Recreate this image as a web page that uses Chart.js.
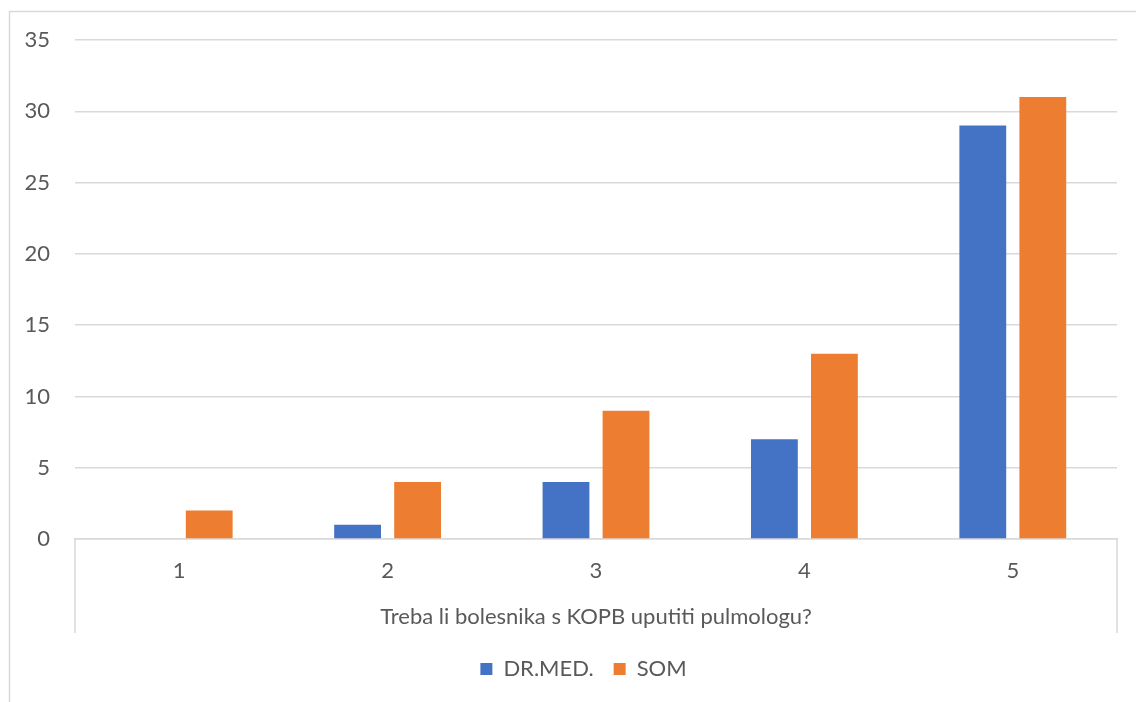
<!DOCTYPE html>
<html>
<head>
<meta charset="utf-8">
<script src="https://cdn.jsdelivr.net/npm/chart.js@4/dist/chart.umd.min.js"></script>
<style>
  html, body { margin: 0; padding: 0; background: #fff; }
  #wrap { width: 1136px; height: 702px; position: relative; }
</style>
</head>
<body>
<div id="wrap"><canvas id="myChart"></canvas></div>
<script>
var categories = ['1', '2', '3', '4', '5'];
var drMed = [0, 1, 4, 7, 29];
var som = [2, 4, 9, 13, 31];
var seriesNames = ['DR.MED.', 'SOM'];
var axisTitle = 'Treba li bolesnika s KOPB uputiti pulmologu?';

var textColor = '#595959';
var lineColor = '#d9d9d9';
var fontFamily = 'Lato';
var fontSize = 22;

// outer frame + the box under the category axis
var framePlugin = {
    id: 'frame',
    afterLayout: function(chart) {
        // legend sits a bit right of centre in the original
        chart.legend.left += 25;
        chart.legend.right += 25;
    },
    beforeDraw: function(chart) {
        var c = chart.ctx;
        c.save();
        c.strokeStyle = lineColor;
        c.lineWidth = 1.5;
        c.beginPath();
        c.moveTo(9.5, chart.height);
        c.lineTo(9.5, 11.5);
        c.lineTo(chart.width, 11.5);
        c.stroke();
        var a = chart.chartArea;
        c.beginPath();
        c.moveTo(a.left, a.bottom);
        c.lineTo(a.left, a.bottom + 94);
        c.moveTo(a.right, a.bottom);
        c.lineTo(a.right, a.bottom + 94);
        c.stroke();
        c.restore();
    }
};

var ctx = document.getElementById('myChart').getContext('2d');
var chart = new Chart(ctx, {
    type: 'bar',
    data: {
        labels: categories,
        datasets: [
            { label: seriesNames[0], data: drMed, backgroundColor: '#4472C4', borderWidth: 0 },
            { label: seriesNames[1], data: som, backgroundColor: '#ED7D31', borderWidth: 0 }
        ]
    },
    options: {
        responsive: true,
        maintainAspectRatio: false,
        animation: false,
        layout: { padding: { left: 0, right: 19, top: 40, bottom: 12 } },
        datasets: { bar: { categoryPercentage: 0.576, barPercentage: 0.78 } },
        plugins: {
            legend: {
                position: 'bottom',
                labels: {
                    color: textColor,
                    font: { family: fontFamily, size: fontSize },
                    boxWidth: 12,
                    boxHeight: 12,
                    padding: 20
                }
            },
            tooltip: { enabled: false }
        },
        scales: {
            x: {
                grid: { display: false, drawTicks: false },
                border: { display: true, color: lineColor, width: 1.5 },
                ticks: { color: textColor, font: { family: fontFamily, size: fontSize }, padding: 18.8 },
                title: {
                    display: true,
                    text: axisTitle,
                    color: textColor,
                    font: { family: fontFamily, size: fontSize },
                    padding: { top: 0, bottom: 7.8 }
                },
                afterFit: function(scale) { scale.height = 99; }
            },
            y: {
                min: 0,
                max: 35,
                grid: { color: lineColor, lineWidth: 1.5, drawTicks: false },
                border: { display: false },
                ticks: { stepSize: 5, color: textColor, font: { family: fontFamily, size: fontSize }, padding: 25 },
                afterFit: function(scale) { scale.width = 75; }
            }
        }
    },
    plugins: [framePlugin]
});
</script>
</body>
</html>
